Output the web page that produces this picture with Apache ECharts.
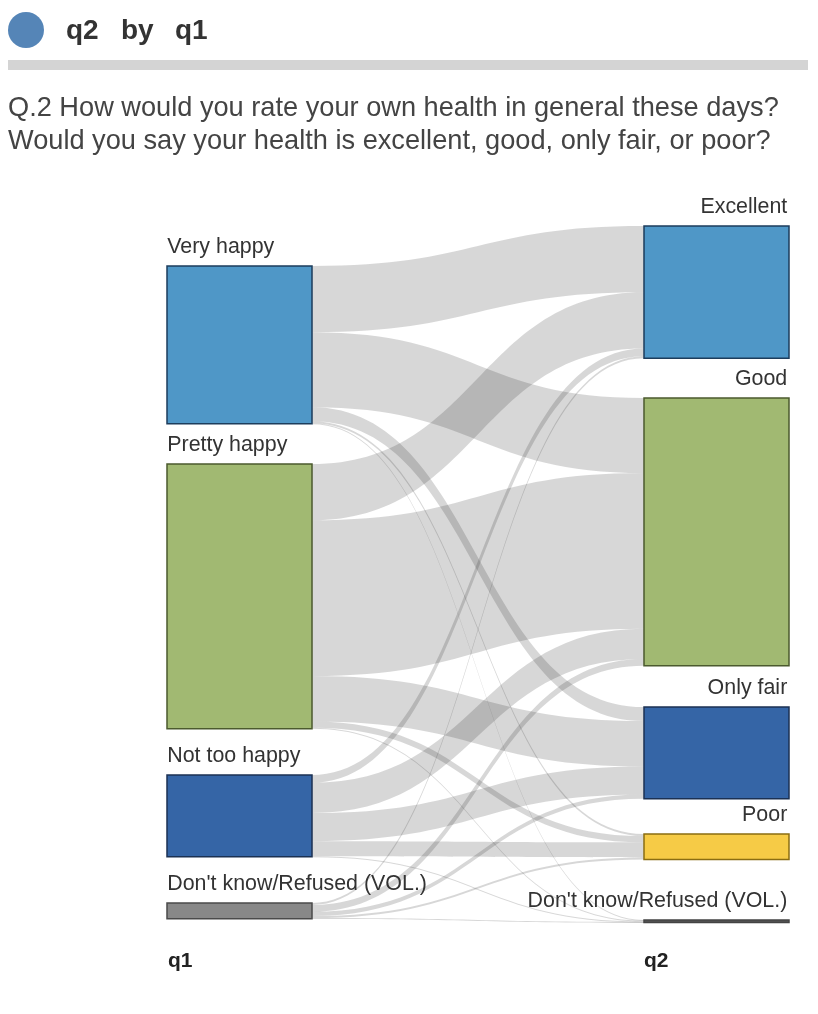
<!DOCTYPE html>
<html><head><meta charset="utf-8">
<script src="https://cdn.jsdelivr.net/npm/echarts@6/dist/echarts.min.js"></script>
<style>html,body{margin:0;padding:0;background:#fff}#c{width:818px;height:1014px}</style>
</head><body><div id="c"></div>
<script>
// ---- data ----
const q1Categories = ['Very happy', 'Pretty happy', 'Not too happy', "Don't know/Refused (VOL.)"];
const q2Categories = ['Excellent', 'Good', 'Only fair', 'Poor', "Don't know/Refused (VOL.)"];
// share of all respondents (%), each row = one q1 answer split across q2 answers
const flowVeryHappy   = [12.7, 14.4, 2.7, 0.4, 0.1];
const flowPrettyHappy = [10.8, 29.9, 8.7, 1.2, 0.2];
const flowNotTooHappy = [1.5, 5.8, 5.4, 2.9, 0.1];
const flowDontKnow    = [0.4, 1.3, 0.8, 0.4, 0.1];
const flows = [flowVeryHappy, flowPrettyHappy, flowNotTooHappy, flowDontKnow];
const titleText = 'q2 by q1';
const questionLines = ['Q.2 How would you rate your own health in general these days?',
                       'Would you say your health is excellent, good, only fair, or poor?'];
const sideLabels = ['q1', 'q2'];

// ---- style / layout ----
const FONT = '"Liberation Sans", Helvetica, Arial, sans-serif';
const q1Fill = ['#4f97c7', '#a1b972', '#3565a6', '#888888'];
const q1Border = ['#1d3d5c', '#4b5a2e', '#1b3153', '#4a4a4a'];
const q2Fill = ['#4f97c7', '#a1b972', '#3565a6', '#f6cb46', '#555555'];
const q2Border = ['#1d3d5c', '#4b5a2e', '#1b3153', '#8a6d12', '#444444'];
const q1LocalY = [0.0588, 0.35, 0.8074, 0.9956];
const q2LocalY = [0, 0.2529, 0.7074, 0.8941, 1.0206];
const NODE_W = 145, SERIES_W = 622;

const nodes = [];
q1Categories.forEach((c, i) => nodes.push({
  name: 'q1:' + c, localX: 0, localY: q1LocalY[i],
  itemStyle: { color: q1Fill[i], borderColor: q1Border[i], borderWidth: 1.5 },
  label: { position: [1, -8], align: 'left', verticalAlign: 'bottom' }
}));
q2Categories.forEach((c, j) => nodes.push({
  name: 'q2:' + c, localX: 1 - NODE_W / SERIES_W, localY: q2LocalY[j],
  itemStyle: { color: q2Fill[j], borderColor: q2Border[j], borderWidth: 1.5 },
  label: { position: [NODE_W - 1, -8], align: 'right', verticalAlign: 'bottom' }
}));
const links = [];
flows.forEach((row, i) => row.forEach((v, j) => links.push({
  source: 'q1:' + q1Categories[i], target: 'q2:' + q2Categories[j], value: v
})));

const titleParts = titleText.split(' ');
const chart = echarts.init(document.getElementById('c'), null, { renderer: 'canvas' });
chart.setOption({
  animation: false,
  backgroundColor: '#fff',
  graphic: [
    { type: 'circle', shape: { cx: 26, cy: 30, r: 18 }, style: { fill: '#5585b7' } },
    { type: 'text', style: { text: titleParts[0], x: 66, y: 31, font: 'bold 28px ' + FONT, fill: '#333', textVerticalAlign: 'middle' } },
    { type: 'text', style: { text: titleParts[1], x: 121, y: 31, font: 'bold 28px ' + FONT, fill: '#333', textVerticalAlign: 'middle' } },
    { type: 'text', style: { text: titleParts[2], x: 175, y: 31, font: 'bold 28px ' + FONT, fill: '#333', textVerticalAlign: 'middle' } },
    { type: 'rect', shape: { x: 8, y: 60, width: 800, height: 10 }, style: { fill: '#d4d4d4' } },
    { type: 'text', style: { text: questionLines[0], x: 8, y: 109, font: '27.2px ' + FONT, fill: '#444', textVerticalAlign: 'middle' } },
    { type: 'text', style: { text: questionLines[1], x: 8, y: 142, font: '27.2px ' + FONT, fill: '#444', textVerticalAlign: 'middle' } },
    { type: 'text', style: { text: sideLabels[0], x: 168, y: 961, font: 'bold 21px ' + FONT, fill: '#222', textVerticalAlign: 'middle' } },
    { type: 'text', style: { text: sideLabels[1], x: 644, y: 961, font: 'bold 21px ' + FONT, fill: '#222', textVerticalAlign: 'middle' } }
  ],
  series: [{
    type: 'sankey',
    left: 167, top: 226, width: SERIES_W, height: 680,
    nodeWidth: NODE_W, nodeGap: 40,
    layoutIterations: 0,
    draggable: false,
    silent: true,
    emphasis: { disabled: true },
    lineStyle: { color: '#222', opacity: 0.18, curveness: 0.5 },
    label: {
      fontFamily: FONT, fontSize: 21.4, color: '#333',
      formatter: p => p.name.slice(3)
    },
    data: nodes,
    links: links
  }]
});
</script>
</body></html>
